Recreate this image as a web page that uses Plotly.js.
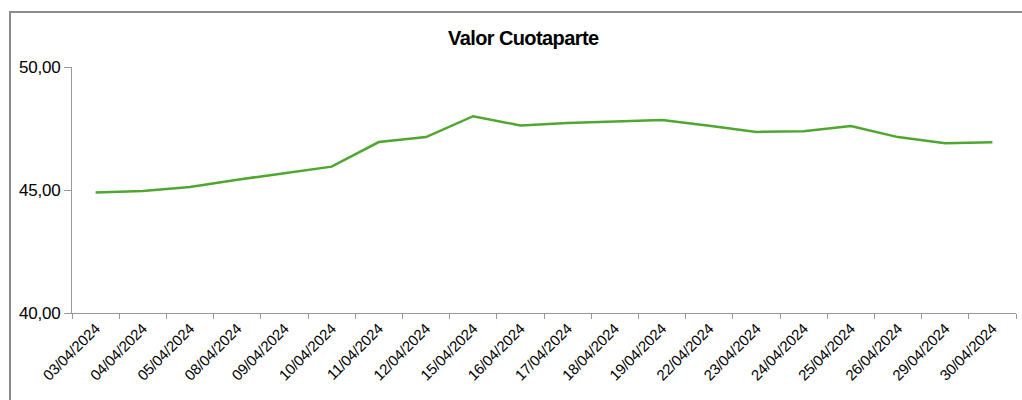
<!DOCTYPE html>
<html>
<head>
<meta charset="utf-8">
<script src="https://cdn.plot.ly/plotly-3.0.1.min.js"></script>
<style>
html,body{margin:0;padding:0;background:#fff;overflow:hidden;width:1022px;height:400px;}
#wrap{position:relative;width:1022px;height:400px;overflow:hidden;}
#chart{position:absolute;left:0;top:0;width:1022px;height:400px;}
#frame{position:absolute;left:9px;top:11px;width:1100px;height:500px;border:2px solid #8c8c8c;pointer-events:none;box-sizing:border-box;}
#chart .gtitle{letter-spacing:-0.6px;}
#chart .xtick text, #chart .ytick text{letter-spacing:-0.2px;}
</style>
</head>
<body>
<div id="wrap">
<div id="chart"></div>
<div id="frame"></div>
</div>
<script>
var dates = ["03/04/2024","04/04/2024","05/04/2024","08/04/2024","09/04/2024","10/04/2024","11/04/2024","12/04/2024","15/04/2024","16/04/2024","17/04/2024","18/04/2024","19/04/2024","22/04/2024","23/04/2024","24/04/2024","25/04/2024","26/04/2024","29/04/2024","30/04/2024"];
var values = [44.90,44.96,45.12,45.42,45.68,45.95,46.95,47.15,48.00,47.62,47.72,47.80,47.85,47.61,47.36,47.39,47.60,47.15,46.90,46.94];
var yTicks = [40,45,50];

var trace = {
  x: dates, y: values, type: 'scatter', mode: 'lines',
  line: {color: '#4EA72E', width: 2.5},
  hoverinfo: 'x+y'
};
var layout = {
  width: 1022, height: 400,
  margin: {l: 72, r: 6, t: 67, b: 87},
  paper_bgcolor: '#ffffff', plot_bgcolor: '#ffffff',
  separators: ',.',
  showlegend: false,
  title: {text: 'Valor Cuotaparte', font: {family: 'Liberation Sans, Arial, sans-serif', size: 20, color: '#000', weight: 'bold'},
          x: 0.512, xref: 'container', xanchor: 'center', y: 0.906, yref: 'container', yanchor: 'middle'},
  xaxis: {
    type: 'category', tickangle: -45, tickson: 'boundaries',
    ticks: 'outside', ticklen: 5, tickcolor: '#999', tickwidth: 1,
    showline: true, linecolor: '#999', linewidth: 1, showgrid: false, zeroline: false,
    tickfont: {family: 'Liberation Sans, Arial, sans-serif', size: 15, color: '#000'},
    range: [-0.5, dates.length - 0.5], fixedrange: true
  },
  yaxis: {
    range: [40, 50], tickvals: yTicks, tickformat: '.2f',
    ticks: 'outside', ticklen: 7, tickcolor: '#999', tickwidth: 1,
    showline: true, linecolor: '#999', linewidth: 1, showgrid: false, zeroline: false,
    tickfont: {family: 'Liberation Sans, Arial, sans-serif', size: 17, color: '#000'},
    fixedrange: true
  }
};
Plotly.newPlot('chart', [trace], layout, {displayModeBar: false, staticPlot: true});
</script>
</body>
</html>
